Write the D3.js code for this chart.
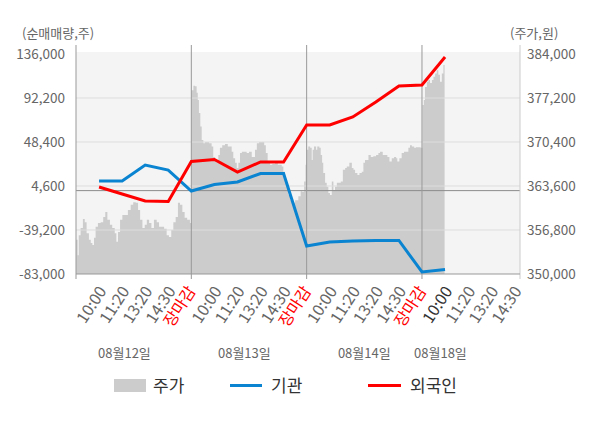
<!DOCTYPE html>
<html>
<head>
<meta charset="utf-8">
<script src="https://cdn.jsdelivr.net/npm/d3@7"></script>
<style>
body { margin: 0; background: #fff; }
text { font-family: "Noto Sans CJK KR", "Noto Sans", sans-serif; }
</style>
</head>
<body>
<svg id="chart" width="600" height="428"></svg>
<script>
// price (주가) - slot = position on the time axis, 5 slots per day
const priceSlots = [
    0, 0.07, 0.12, 0.2, 0.3, 0.38, 0.46, 0.56, 0.64, 0.71, 0.78, 0.85, 0.95, 1.07, 1.18, 1.27, 1.36, 1.47, 1.57, 1.68,
    1.75, 1.82, 1.91, 2.01, 2.16, 2.25, 2.37, 2.48, 2.59, 2.69, 2.78, 2.88, 2.98, 3.07, 3.17, 3.27, 3.38, 3.5, 3.6, 3.7,
    3.82, 3.93, 4.03, 4.13, 4.22, 4.32, 4.42, 4.51, 4.61, 4.71, 4.82, 4.94,
    5.01, 5.09, 5.16, 5.23, 5.28, 5.33, 5.39, 5.45, 5.52, 5.59, 5.67, 5.77, 5.88, 5.95, 6.03, 6.1, 6.17, 6.24, 6.34, 6.46,
    6.58, 6.68, 6.75, 6.82, 6.9, 6.97, 7.04, 7.11, 7.19, 7.3, 7.4, 7.5, 7.62, 7.76, 7.84, 7.94, 8.05, 8.16, 8.23, 8.31,
    8.41, 8.51, 8.63, 8.75, 8.85, 8.92, 8.99, 9.06, 9.14, 9.21, 9.28, 9.37, 9.5, 9.64, 9.74, 9.8, 9.89, 9.95,
    10, 10.07, 10.15, 10.22, 10.26, 10.32, 10.41, 10.46, 10.55, 10.61, 10.67, 10.72, 10.8, 10.87, 10.94, 11.01, 11.09,
    11.16, 11.23, 11.31, 11.42, 11.48, 11.57, 11.67, 11.74, 11.85, 11.96, 12.03, 12.1, 12.2, 12.29, 12.39, 12.46, 12.53,
    12.61, 12.68, 12.78, 12.89, 13.01, 13.11, 13.18, 13.3, 13.4, 13.5, 13.59, 13.69, 13.79, 13.88, 13.93, 14.02, 14.12,
    14.22, 14.31, 14.41, 14.48, 14.56, 14.66, 14.74, 14.84, 14.94,
    15.02, 15.08, 15.13, 15.21, 15.28, 15.35, 15.43, 15.5, 15.57, 15.64, 15.71, 15.78, 15.86, 15.93, 15.98
];
const priceValues = [
    355300, 352900, 356000, 357100, 358500, 358000, 356300, 355300, 354800, 354500, 355600, 357300, 357900, 358000, 358800, 359600, 358400, 357600, 357100, 356300,
    355000, 356500, 358400, 359100, 359100, 359900, 360700, 361100, 361000, 359900, 358400, 357100, 357600, 358400, 357900, 357100, 358400, 358000, 357300, 357300,
    357000, 356000, 355700, 356800, 358000, 358800, 361000, 360700, 359600, 358700, 358400, 357900,
    378400, 379100, 379000, 378000, 376900, 374900, 372800, 370700, 370200, 370400, 370400, 370200, 369700, 368100, 367600, 367200, 368400, 369500, 369900, 370100,
    369700, 369700, 368900, 367900, 367200, 366400, 367200, 368700, 368900, 368900, 368700, 368900, 368100, 369200, 370200, 370400, 370400, 369900, 368700, 367400,
    366900, 367000, 367200, 366900, 366900, 366600, 365800, 364500, 363500, 362200, 361400, 361000, 361400, 362000, 362800, 362700, 364300, 366900,
    369200, 369700, 369500, 367600, 369200, 369700, 369200, 369700, 369500, 368400, 367200, 365600, 364100, 363500, 362500, 362200, 364300,
    363000, 363500, 364100, 364100, 364300, 366100, 366400, 366600, 367200, 366400, 366100, 365600, 365300, 365600, 365800, 367200, 367600,
    367600, 368400, 368100, 368200, 368400, 368700, 368900, 368400, 368400, 368100, 367400, 367900, 368100, 367900, 367400, 367900, 368700,
    368900, 368900, 369500, 369900, 369700, 369500, 369600, 369600, 369500,
    376100, 376900, 378900, 379700, 380000, 379500, 380000, 380500, 381000, 381500, 380800, 379700, 381000, 382300, 382600
];

// 순매매량 (외국인 / 기관)
const flowSlots = [1, 2, 3, 4, 5, 6, 7, 8, 9, 10, 11, 12, 13, 14, 15, 16];
const foreignValues = [3600, -3400, -10300, -10800, 29000, 31000, 18500, 28500, 28500, 65300, 65300, 73300, 88200, 104200, 105100, 133000];
const instValues = [9600, 9600, 25500, 20500, -400, 6000, 8600, 17000, 17000, -55100, -51100, -50100, -49600, -49600, -81000, -78500];

const leftTicks = [136000, 92200, 48400, 4600, -39200, -83000];
const rightTicks = [384000, 377200, 370400, 363600, 356800, 350000];
const timeLabels = ["10:00", "11:20", "13:20", "14:30", "장마감"];
const dayLabels = ["08월12일", "08월13일", "08월14일", "08월18일"];
const legendNames = ["주가", "기관", "외국인"];

const svg = d3.select("#chart");
const plotLeft = 76, plotRight = 520, plotTop = 54, plotBottom = 274;
const lineTop = 45, lineBottom = 279;
const fmt = v => d3.format(",")(v).replace("\u2212", "-");

const x = d3.scaleLinear().domain([0, 19.25]).range([plotLeft, plotRight]);
const yL = d3.scaleLinear().domain([-83000, 136000]).range([plotBottom, plotTop]);
const yR = d3.scaleLinear().domain([350000, 384000]).range([plotBottom, plotTop]);

// plot background
svg.append("rect")
    .attr("x", plotLeft)
    .attr("y", plotTop - 2)
    .attr("width", plotRight - plotLeft)
    .attr("height", plotBottom - plotTop + 2)
    .style("fill", "#f4f4f4");

// price area
const priceData = priceSlots.map((s, i) => [s, priceValues[i]]);
svg.append("path")
    .datum(priceData)
    .attr("d", d3.area()
        .x(d => x(d[0]))
        .y0(plotBottom)
        .y1(d => yR(d[1]))
        .curve(d3.curveStepAfter))
    .style("fill", "#cccccc");

// gridlines
svg.selectAll(".grid")
    .data(leftTicks.slice(1, -1))
    .enter()
    .append("line")
    .attr("x1", plotLeft)
    .attr("x2", plotRight)
    .attr("y1", d => yL(d))
    .attr("y2", d => yL(d))
    .style("stroke", "#dddddd")
    .style("stroke-width", 1);

// zero line
svg.append("line")
    .attr("x1", plotLeft)
    .attr("x2", plotRight)
    .attr("y1", yL(0))
    .attr("y2", yL(0))
    .style("stroke", "#8c8c8c")
    .style("stroke-width", 1);

// day separators + left edge
for (const s of [0, 5, 10, 15]) {
    svg.append("line")
        .attr("x1", x(s))
        .attr("x2", x(s))
        .attr("y1", lineTop)
        .attr("y2", lineBottom)
        .style("stroke", "#999")
        .style("stroke-width", 1);
}
svg.append("line")
    .attr("x1", plotRight)
    .attr("x2", plotRight)
    .attr("y1", lineTop)
    .attr("y2", lineBottom)
    .style("stroke", "#cccccc")
    .style("stroke-width", 1);
svg.append("line")
    .attr("x1", plotLeft)
    .attr("x2", plotRight)
    .attr("y1", plotBottom)
    .attr("y2", plotBottom)
    .style("stroke", "#999")
    .style("stroke-width", 1);

// flow lines
const flowLine = d3.line().x(d => x(d[0])).y(d => yL(d[1]));
svg.append("path")
    .datum(flowSlots.map((s, i) => [s, instValues[i]]))
    .attr("d", flowLine)
    .style("fill", "none")
    .style("stroke", "#0a84d0")
    .style("stroke-width", 3);
svg.append("path")
    .datum(flowSlots.map((s, i) => [s, foreignValues[i]]))
    .attr("d", flowLine)
    .style("fill", "none")
    .style("stroke", "#ff0000")
    .style("stroke-width", 3);

// axis labels
svg.selectAll(".lt")
    .data(leftTicks)
    .enter()
    .append("text")
    .attr("x", 65)
    .attr("y", d => yL(d))
    .attr("dy", "0.35em")
    .attr("text-anchor", "end")
    .style("font-size", "13.5px")
    .style("fill", "#666")
    .text(fmt);
svg.selectAll(".rt")
    .data(rightTicks)
    .enter()
    .append("text")
    .attr("x", 527)
    .attr("y", d => yR(d))
    .attr("dy", "0.35em")
    .style("font-size", "13.5px")
    .style("fill", "#666")
    .text(fmt);
svg.append("text")
    .attr("x", 22)
    .attr("y", 38)
    .style("font-size", "13px")
    .style("fill", "#666")
    .text("(순매매량,주)");
svg.append("text")
    .attr("x", 510)
    .attr("y", 38)
    .style("font-size", "13px")
    .style("fill", "#666")
    .text("(주가,원)");

// time tick labels
const tickSlots = d3.range(1, 20);
svg.selectAll(".tl")
    .data(tickSlots)
    .enter()
    .append("text")
    .attr("transform", s => "translate(" + (x(s) + (s % 5 === 0 ? 5 : 8)) + ",291) rotate(-57)")
    .attr("text-anchor", "end")
    .style("font-size", "16px")
    .style("fill", s => s % 5 === 0 ? "#ff0000" : (s === 16 ? "#333" : "#666"))
    .text(s => timeLabels[(s - 1) % 5]);

// date labels
const dateSlots = [2.1, 7.3, 12.5, 15.8];
svg.selectAll(".dl")
    .data(dayLabels)
    .enter()
    .append("text")
    .attr("x", (d, i) => x(dateSlots[i]))
    .attr("y", 358)
    .attr("text-anchor", "middle")
    .style("font-size", "13px")
    .style("fill", "#666")
    .text(d => d);

// legend
svg.append("rect")
    .attr("x", 114)
    .attr("y", 379)
    .attr("width", 32)
    .attr("height", 13)
    .style("fill", "#cccccc");
svg.append("line")
    .attr("x1", 230).attr("x2", 262)
    .attr("y1", 385.5).attr("y2", 385.5)
    .style("stroke", "#0a84d0")
    .style("stroke-width", 3);
svg.append("line")
    .attr("x1", 368).attr("x2", 401)
    .attr("y1", 385.5).attr("y2", 385.5)
    .style("stroke", "#ff0000")
    .style("stroke-width", 3);
const legendX = [153, 271, 410];
svg.selectAll(".lg")
    .data(legendNames)
    .enter()
    .append("text")
    .attr("x", (d, i) => legendX[i])
    .attr("y", 386)
    .attr("dy", "0.35em")
    .style("font-size", "17px")
    .style("fill", "#333")
    .text(d => d);
</script>
</body>
</html>
